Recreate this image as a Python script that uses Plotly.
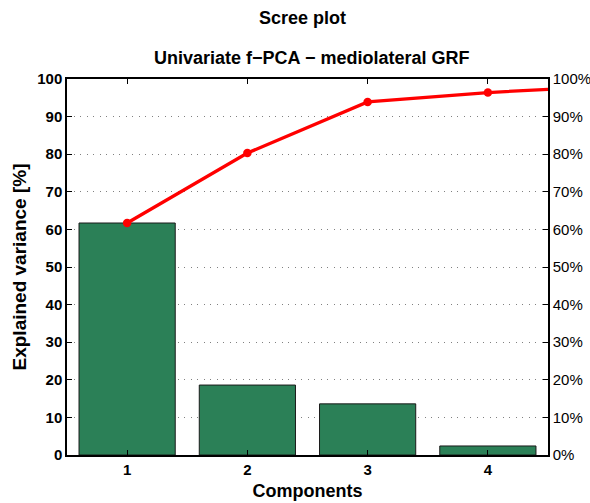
import plotly.graph_objects as go

components = [1, 2, 3, 4]
explained = [61.7, 18.6, 13.6, 2.4]
cum_components = [1, 2, 3, 4, 5]
cumulative = [61.7, 80.3, 93.9, 96.4, 98.1]
left_ticks = [0, 10, 20, 30, 40, 50, 60, 70, 80, 90, 100]
right_tick_text = [f"{v}%" for v in left_ticks]

FONT = "Liberation Sans, Arial, Helvetica, sans-serif"
W, H = 590, 503
ML, MR, MT, MB = 67, 42, 79, 48

fig = go.Figure()
fig.add_trace(go.Bar(
    x=components, y=explained, width=0.8,
    marker=dict(color="#2b8057", line=dict(color="#1a1a1a", width=1)),
    showlegend=False, hoverinfo="skip",
))
fig.add_trace(go.Scatter(
    x=cum_components, y=cumulative, mode="lines+markers", yaxis="y2",
    line=dict(color="#ff0000", width=3.3),
    marker=dict(color="#ff0000", size=8.5),
    showlegend=False, cliponaxis=True,
))

fig.update_layout(
    width=W, height=H,
    margin=dict(l=ML, r=MR, t=MT, b=MB, autoexpand=False),
    plot_bgcolor="white", paper_bgcolor="white",
    font=dict(family=FONT, color="black"),
    xaxis=dict(
        range=[0.5, 4.5], tickvals=components, ticktext=[str(c) for c in components],
        ticks="inside", ticklen=5, tickcolor="black", mirror="ticks",
        showline=True, linecolor="black", linewidth=1.5, showgrid=False, zeroline=False,
        tickfont=dict(size=15, family=FONT, color="black", weight="bold"),
        title=dict(text="<b>Components</b>", font=dict(size=18), standoff=8),
        automargin=False,
    ),
    yaxis=dict(
        range=[0, 100], tickvals=left_ticks,
        ticks="inside", ticklen=5, tickcolor="black", mirror=True,
        showline=True, linecolor="black", linewidth=1.5,
        showgrid=True, gridcolor="#808080", griddash="1px 5.5px", gridwidth=1, zeroline=False,
        tickfont=dict(size=15, family=FONT, color="black", weight="bold"),
        title=dict(text="<b>Explained variance [%]</b>", font=dict(size=19), standoff=6),
        automargin=False,
    ),
    yaxis2=dict(
        range=[0, 100], overlaying="y", side="right",
        tickvals=left_ticks, ticktext=right_tick_text,
        ticks="inside", ticklen=5, tickcolor="black",
        showline=True, linecolor="black", linewidth=1.5, showgrid=False, zeroline=False,
        tickfont=dict(size=15, family=FONT, color="black"),
        automargin=False,
    ),
)
plot_w = W - ML - MR
plot_h = H - MT - MB
for text, ypx, cx in [("<b>Scree plot</b>", 18, 302),
                      ("<b>Univariate f\u2212PCA \u2212 mediolateral GRF</b>", 58, 311)]:
    fig.add_annotation(text=text, xref="paper", yref="paper",
                       x=(cx - ML) / plot_w, y=(H - MB - ypx) / plot_h,
                       yanchor="middle", showarrow=False, font=dict(size=18))

fig.write_html("out.html")
